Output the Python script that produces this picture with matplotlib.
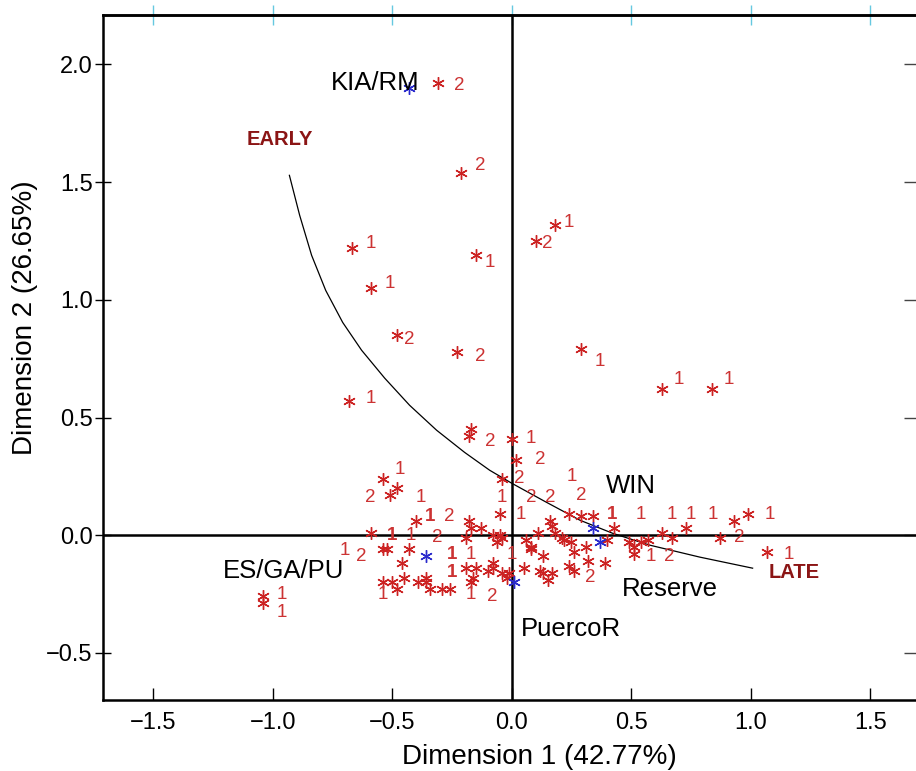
import matplotlib
matplotlib.use("Agg")
import matplotlib.pyplot as plt
from matplotlib.ticker import FuncFormatter

plt.rcParams['font.family'] = ['Liberation Sans', 'DejaVu Sans']

# red asterisks (individual cases)
pt_x = [-0.31, -0.21, 0.18, 0.10, -0.15, -0.67, -0.59, -0.48, -0.23, 0.29, 0.63, 0.84, -0.68,
        -1.04, -1.04, -0.17, -0.18, 0.00, 0.02, -0.04, -0.54, -0.48, -0.51,
        -0.40, -0.18, -0.17, -0.13, -0.19, -0.05, -0.59, -0.08, -0.05, -0.06,
        -0.54, -0.52, -0.43, -0.46, -0.19, -0.15, -0.08, -0.08, -0.10, -0.04, -0.02,
        -0.54, -0.50, -0.45, -0.48, -0.39, -0.36, -0.36, -0.34, -0.29, -0.26, -0.17, -0.16,
        0.16, 0.17, 0.18, 0.24, 0.29, 0.34, 0.43, 0.40, -0.04, 0.06, 0.11, 0.21, 0.22,
        0.25, 0.31, 0.08, 0.08, 0.13, 0.26, 0.49, 0.51, 0.57, 0.51, 0.05, 0.12, 0.13,
        0.17, 0.15, 0.24, 0.26, 0.32, 0.39, -0.01, 0.73, 0.63, 0.67, 0.87, 0.93, 0.99,
        1.07, 0.54]
pt_y = [1.92, 1.54, 1.32, 1.25, 1.19, 1.22, 1.05, 0.85, 0.78, 0.79, 0.62, 0.62, 0.57,
        -0.26, -0.29, 0.45, 0.42, 0.41, 0.32, 0.24, 0.24, 0.20, 0.17,
        0.06, 0.06, 0.03, 0.03, -0.01, 0.09, 0.01, 0.00, 0.00, -0.03,
        -0.06, -0.06, -0.06, -0.12, -0.14, -0.14, -0.12, -0.14, -0.15, -0.16, -0.18,
        -0.20, -0.20, -0.18, -0.23, -0.20, -0.18, -0.20, -0.23, -0.23, -0.23, -0.20, -0.18,
        0.06, 0.04, 0.01, 0.09, 0.08, 0.08, 0.03, -0.02, -0.01, -0.02, 0.01, -0.01, -0.02,
        -0.03, -0.05, -0.05, -0.06, -0.09, -0.07, -0.03, -0.05, -0.02, -0.08, -0.14, -0.15, -0.16,
        -0.16, -0.19, -0.13, -0.15, -0.11, -0.12, -0.16, 0.03, 0.01, -0.01, -0.01, 0.06, 0.09,
        -0.07, -0.03]

# group labels of the cases
lab_x = [-0.22, -0.13, 0.24, 0.15, -0.09, -0.59, -0.51, -0.43, -0.13, 0.37, 0.70, 0.91, -0.59,
         -0.96, -0.96, -0.09, 0.08, 0.12, 0.03, -0.47, -0.59, -0.38, -0.04, 0.08, 0.16, 0.29,
         0.25, -0.34, -0.26, 0.04, 0.42, 0.54, 0.67, 0.75, 0.84, 1.08, -0.50, -0.42, -0.31,
         -0.70, -0.63, -0.25, -0.17, 0.00, -0.25, -0.54, -0.17, -0.08, 0.33, 0.95, 0.58, 0.66, 1.16]
lab_y = [1.91, 1.57, 1.33, 1.24, 1.16, 1.24, 1.07, 0.83, 0.76, 0.74, 0.66, 0.66, 0.58,
         -0.25, -0.33, 0.40, 0.41, 0.32, 0.24, 0.28, 0.16, 0.16, 0.16, 0.16, 0.16, 0.17,
         0.25, 0.08, 0.08, 0.09, 0.09, 0.09, 0.09, 0.09, 0.09, 0.09, 0.00, 0.00, -0.01,
         -0.065, -0.09, -0.08, -0.08, -0.08, -0.16, -0.25, -0.25, -0.26, -0.18, -0.01, -0.09, -0.09, -0.08]
lab_txt = ["2", "2", "1", "2", "1", "1", "1", "2", "2", "1", "1", "1", "1",
           "1", "1", "2", "1", "2", "2", "1", "2", "1", "1", "2", "2", "2",
           "1", "1", "2", "1", "1", "1", "1", "1", "1", "1", "1", "1", "2",
           "1", "2", "1", "1", "1", "1", "1", "1", "2", "2", "2", "1", "2", "1"]
lab_bold = [27, 30, 36, 41, 44]

# group centroids (blue) and their names
grp_x = [-0.43, -0.36, 0.01, 0.34, 0.37]
grp_y = [1.90, -0.09, -0.20, 0.03, -0.03]
grp_names = ["KIA/RM", "ES/GA/PU", "PuercoR", "WIN", "Reserve"]
name_x = [-0.57, -0.955, 0.25, 0.50, 0.66]
name_y = [1.92, -0.15, -0.40, 0.21, -0.23]

# EARLY -> LATE curve
crv_x = [-0.93, -0.887, -0.837, -0.778, -0.707, -0.628, -0.531, -0.427, -0.314, -0.197,
         -0.092, 0.0, 0.138, 0.285, 0.423, 0.577, 0.787, 1.008]
crv_y = [1.529, 1.359, 1.189, 1.040, 0.904, 0.786, 0.667, 0.552, 0.446, 0.352,
         0.276, 0.221, 0.144, 0.064, 0.008, -0.042, -0.093, -0.140]

red = '#cc2222'
minus_fmt = FuncFormatter(lambda v, p: ('%.1f' % v).replace('-', '\u2212'))

fig = plt.figure(figsize=(9.16, 7.71), dpi=100)
ax = fig.add_axes([0.1124, 0.0921, 0.8898, 0.8884])
ax.set_xlim(-1.71, 1.70)
ax.set_ylim(-0.70, 2.21)

ax.axhline(0, color='black', lw=1.8, zorder=1)
ax.axvline(0, color='black', lw=1.8, zorder=1)
ax.plot(crv_x, crv_y, color='black', lw=0.9, zorder=2)

ax.plot(pt_x, pt_y, ls='none', marker=(6, 2, 0), ms=9, mew=1.0, color=red, zorder=3)
for i, (x, y, t) in enumerate(zip(lab_x, lab_y, lab_txt)):
    ax.text(x, y, t, color='#cc3333', fontsize=13.5, ha='center', va='center',
            fontweight='bold' if i in lab_bold else 'normal', zorder=4)

ax.plot(grp_x, grp_y, ls='none', marker=(6, 2, 0), ms=9, mew=1.0, color='#2a2acc', zorder=5)
for x, y, t in zip(name_x, name_y, grp_names):
    ax.text(x, y, t, fontsize=18.5, ha='center', va='center', zorder=6)

ax.text(-0.97, 1.68, "EARLY", color='#8b1515', fontsize=14.5, fontweight='bold',
        ha='center', va='center')
ax.text(1.18, -0.16, "LATE", color='#8b1515', fontsize=14.5, fontweight='bold',
        ha='center', va='center')

xt = [-1.5, -1.0, -0.5, 0.0, 0.5, 1.0, 1.5]
yt = [-0.5, 0.0, 0.5, 1.0, 1.5, 2.0]
ax.set_xticks(xt)
ax.set_yticks(yt)
ax.xaxis.set_major_formatter(minus_fmt)
ax.yaxis.set_major_formatter(minus_fmt)
ax.tick_params(axis='x', direction='in', length=9, width=1, pad=9, labelsize=17)
ax.tick_params(axis='y', direction='inout', length=11, width=1, pad=2, labelsize=17)
for s in ax.spines.values():
    s.set_linewidth(1.8)

# cyan ticks on top, plain ticks on the right
top = ax.secondary_xaxis('top')
top.set_xticks(xt)
top.tick_params(direction='inout', length=14, width=1, color='#66c8e0', labeltop=False)
top.spines['top'].set_linewidth(1.8)
rgt = ax.secondary_yaxis('right')
rgt.set_yticks(yt)
rgt.tick_params(direction='in', length=10, width=1, color='#444444', labelright=False)

ax.set_xlabel("Dimension 1 (42.77%)", fontsize=20)
ax.set_ylabel("Dimension 2 (26.65%)", fontsize=20)
ax.xaxis.set_label_coords(0.536, -0.064)
ax.yaxis.set_label_coords(-0.080, 0.558)

fig.savefig("out.png", dpi=100)
